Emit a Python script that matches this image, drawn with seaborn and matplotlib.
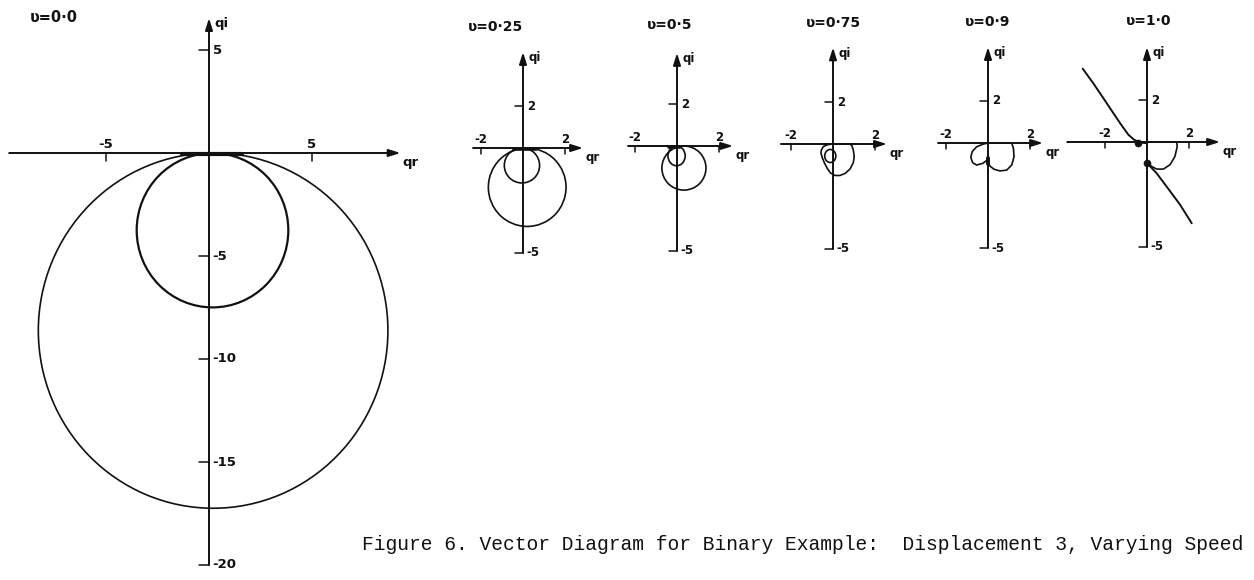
import matplotlib
matplotlib.use("Agg")
import matplotlib.pyplot as plt
from matplotlib.patches import Ellipse
import seaborn as sns

sns.set_theme(style="white")
plt.rcParams["font.family"] = ["DejaVu Sans"]

INK = "#111111"

# ---- data (qr = real part, qi = imaginary part) -------------------------
speeds = ["0·0", "0·25", "0·5", "0·75", "0·9", "1·0"]

# near-circular loci: (centre qr, centre qi, width, height)
loops_v000 = [(0.20, -8.62, 16.97, 17.25), (0.17, -3.75, 7.36, 7.49)]
loops_v025 = [(0.20, -1.87, 3.70, 3.73), (-0.05, -0.83, 1.68, 1.67)]
loops_v050 = [(0.33, -1.05, 2.10, 2.10), (-0.02, -0.47, 0.82, 0.94)]
loops_v075 = [(-0.13, -0.57, 0.53, 0.62)]

# where the loci run tangent to the real axis near the origin
v000_touch_qr = [-1.3, 1.6]
v000_touch_qi = [-0.06, -0.06]
v025_touch_qr = [-0.45, 0.6]
v025_touch_qi = [-0.04, -0.04]
v050_touch_qr = [-0.4, 0.15]
v050_touch_qi = [-0.04, -0.04]

# v = 0.75 outer locus
v075_qr = [0.0, -0.25, -0.46, -0.56, -0.57, -0.50, -0.40, -0.28, -0.12, 0.10,
           0.33, 0.58, 0.82, 0.97, 1.01, 0.97, 0.90, 0.80, 0.40, 0.0]
v075_qi = [0.0, -0.03, -0.12, -0.30, -0.45, -0.68, -0.92, -1.15, -1.38, -1.50,
           -1.50, -1.40, -1.18, -0.88, -0.60, -0.30, -0.08, 0.0, 0.0, 0.0]

# v = 0.9 locus
v090_qr = [-0.03, -0.25, -0.54, -0.73, -0.82, -0.75, -0.54, -0.22, 0.0, 0.60,
           1.13, 1.21, 1.24, 1.13, 0.89, 0.57, 0.29, 0.13, 0.02]
v090_qi = [-0.81, -0.97, -1.05, -0.94, -0.68, -0.41, -0.18, -0.05, 0.0, 0.0,
           0.0, -0.25, -0.65, -1.05, -1.29, -1.33, -1.25, -1.13, -1.00]
v090_dot_qr = [0.0, 0.0]
v090_dot_qi = [-0.70, -1.00]

# v = 1.0 locus: incoming branch, loop and outgoing branch
v100_in_qr = [-3.06, -2.56, -2.08, -1.60, -1.20, -0.89, -0.62, -0.35, 0.0]
v100_in_qi = [3.49, 2.80, 2.09, 1.37, 0.78, 0.35, 0.11, -0.02, -0.06]
v100_loop_qr = [0.0, 0.70, 1.41, 1.44, 1.33, 1.10, 0.78, 0.46, 0.22, 0.0]
v100_loop_qi = [0.0, 0.0, 0.0, -0.21, -0.69, -1.08, -1.29, -1.29, -1.16, -1.00]
v100_out_qr = [0.0, 0.46, 0.94, 1.57, 2.13]
v100_out_qi = [-1.00, -1.49, -2.13, -2.98, -3.87]
v100_dot_qr = [-0.45, 0.0]
v100_dot_qi = [-0.03, -1.00]

main_xticks = [-5, 5]
main_yticks = [5, -5, -10, -15, -20]
small_xticks = [-2, 2]
small_yticks = [2, -5]

caption = "Figure 6. Vector Diagram for Binary Example:  Displacement 3, Varying Speed"

# ---- layout ---------------------------------------------------------------
W, H = 1254, 580
fig = plt.figure(figsize=(W / 100, H / 100), dpi=100)


def make_panel(ox, oy, scale, left, right, top=0, bottom=H):
    """Axes whose data origin sits at pixel (ox, oy) with `scale` px per unit."""
    ax = fig.add_axes([left / W, 1 - bottom / H, (right - left) / W, (bottom - top) / H])
    ax.set_xlim((left - ox) / scale, (right - ox) / scale)
    ax.set_ylim((oy - bottom) / scale, (oy - top) / scale)
    ax.set_axis_off()
    return ax


def arrow(ax, x0, y0, x1, y1):
    ax.annotate("", xy=(x1, y1), xytext=(x0, y0),
                arrowprops=dict(arrowstyle="-|>,head_length=0.7,head_width=0.22",
                                lw=1.4, color=INK, shrinkA=0, shrinkB=0,
                                mutation_scale=10))


def frame(ax, xmin, xmax, ymin, ymax, xticks, yticks, tick, fs, xlab_dy):
    arrow(ax, xmin, 0, xmax, 0)
    arrow(ax, 0, ymin, 0, ymax)
    for t in xticks:
        ax.plot([t, t], [0, -tick], color=INK, lw=1.1)
        ax.text(t, xlab_dy, f"{t}", ha="center", va="bottom",
                fontsize=fs, fontweight="bold", color=INK)
    for t in yticks:
        ax.plot([-tick * 1.3, 0], [t, t], color=INK, lw=1.1)
        ax.text(0.18, t, f"{t}", ha="left", va="center",
                fontsize=fs, fontweight="bold", color=INK)
    ax.text(0.25, ymax - 0.28, "qi", ha="left", va="center",
            fontsize=fs, fontweight="bold", color=INK)
    ax.text(xmax + 0.1, -0.45, "qr", ha="left", va="center",
            fontsize=fs, fontweight="bold", color=INK)


def loops(ax, specs, lw=1.2):
    for cx, cy, w, h in specs:
        ax.add_patch(Ellipse((cx, cy), w, h, fill=False, lw=lw, ec=INK))


def curve(ax, qr, qi, lw=1.2):
    sns.lineplot(x=qr, y=qi, sort=False, estimator=None, ax=ax,
                 color=INK, lw=lw, legend=False)


# v = 0.0 (large panel)
ax0 = make_panel(209, 153, 20.6, 0, 440)
frame(ax0, -9.7, 9.3, -20.0, 6.55, main_xticks, main_yticks, 0.38, 9.5, 0.12)
loops(ax0, loops_v000[:1], lw=1.2)
loops(ax0, loops_v000[1:], lw=1.6)
curve(ax0, v000_touch_qr, v000_touch_qi, lw=3.0)
ax0.text(-8.7, 6.6, f"ʋ={speeds[0]}", ha="left", va="center",
         fontsize=10.5, fontweight="bold", color=INK)

small = [
    # ox, oy, xmin, xmax, ymax, title offset
    (523, 148, -2.38, 2.86, 4.57, -1.29),
    (677, 146, -2.33, 2.67, 4.43, -0.33),
    (833, 144, -2.48, 2.57, 4.60, 0.0),
    (988, 143, -2.38, 2.62, 4.57, 0.0),
    (1147, 142, -3.80, 3.48, 4.52, 0.1),
]
axes = []
for i, (ox, oy, xmin, xmax, ymax, tx) in enumerate(small):
    ax = make_panel(ox, oy, 21.0, ox - 95, ox + 100, 0, 300)
    frame(ax, xmin, xmax, -5.0, ymax, small_xticks, small_yticks, 0.3, 8.5, 0.1)
    ax.text(tx, 5.75, f"ʋ={speeds[i + 1]}", ha="center", va="center",
            fontsize=10, fontweight="bold", color=INK)
    axes.append(ax)

loops(axes[0], loops_v025)
curve(axes[0], v025_touch_qr, v025_touch_qi, lw=2.6)
loops(axes[1], loops_v050)
curve(axes[1], v050_touch_qr, v050_touch_qi, lw=2.6)
loops(axes[2], loops_v075)
curve(axes[2], v075_qr, v075_qi)
curve(axes[3], v090_qr, v090_qi)
curve(axes[3], v090_dot_qr, v090_dot_qi, lw=2.8)
curve(axes[4], v100_in_qr, v100_in_qi, lw=1.4)
curve(axes[4], v100_loop_qr, v100_loop_qi)
curve(axes[4], v100_out_qr, v100_out_qi, lw=1.4)
sns.scatterplot(x=v100_dot_qr, y=v100_dot_qi, ax=axes[4], s=26, color=INK,
                edgecolor=INK, legend=False)

# typed caption, evenly pitched, reaching the right edge
fig.text(362 / W, 1 - 545 / H, caption, ha="left", va="center",
         fontsize=14.15, family="Liberation Mono", color=INK)

fig.savefig("out.png", dpi=100, facecolor="white")
